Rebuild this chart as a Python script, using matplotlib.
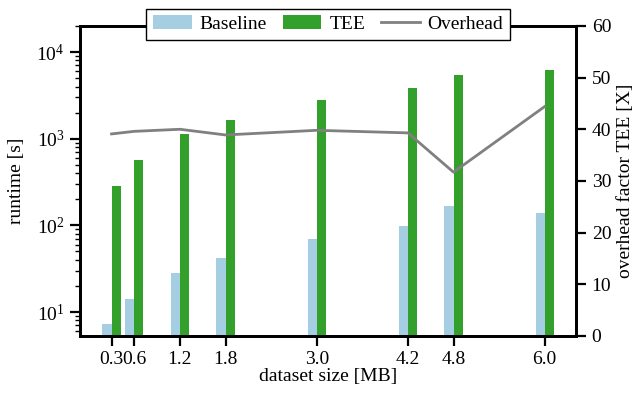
import matplotlib
matplotlib.use("Agg")
import matplotlib.pyplot as plt
import numpy as np

plt.rcParams['font.family'] = ['Liberation Serif', 'DejaVu Serif']
plt.rcParams['font.size'] = 14
plt.rcParams['mathtext.fontset'] = 'stix'

sizes = [0.3, 0.6, 1.2, 1.8, 3.0, 4.2, 4.8, 6.0]
size_labels = ["0.3", "0.6", "1.2", "1.8", "3.0", "4.2", "4.8", "6.0"]
baseline = [7.3, 14.2, 28.4, 42.3, 70, 99, 169, 140]
tee = [287, 573, 1142, 1656, 2818, 3874, 5470, 6250]
overhead = [39.1, 39.6, 40.0, 38.9, 39.8, 39.3, 31.7, 44.4]

fig, ax = plt.subplots(figsize=(6.44, 3.99), dpi=100)
ax2 = ax.twinx()

w = 0.12
b1 = ax.bar(sizes, baseline, width=-w, align='edge', color='#a6cee3', label='Baseline')
b2 = ax.bar(sizes, tee, width=w, align='edge', color='#33a02c', label='TEE')
l1, = ax2.plot(sizes, overhead, color='#808080', lw=2, label='Overhead')

ax.set_yscale('log')
ax.set_ylim(5.3, 2e4)
ax2.set_ylim(0, 60)
ax2.set_yticks(range(0, 61, 10))
ax.set_xticks(sizes)
ax.set_xticklabels(size_labels)

ax.set_xlabel("dataset size [MB]", labelpad=0)
ax.set_ylabel("runtime [s]", labelpad=8)
ax2.set_ylabel("overhead factor TEE [X]", labelpad=4)

for a in (ax, ax2):
    for s in a.spines.values():
        s.set_linewidth(2)
    a.tick_params(which='major', width=1.6, length=7, pad=4)
    a.tick_params(which='minor', width=1.0, length=3.5)

leg = ax2.legend(handles=[b1, b2, l1], loc='upper center', ncol=3, bbox_to_anchor=(0.5, 1.075),
                 fancybox=False, edgecolor='black', framealpha=1, borderpad=0.35,
                 handlelength=2.0, columnspacing=0.8, handletextpad=0.4, borderaxespad=0.3)
leg.set_zorder(10)

plt.subplots_adjust(left=0.124, right=0.895, top=0.935, bottom=0.158)
plt.savefig("out.png", dpi=100)
